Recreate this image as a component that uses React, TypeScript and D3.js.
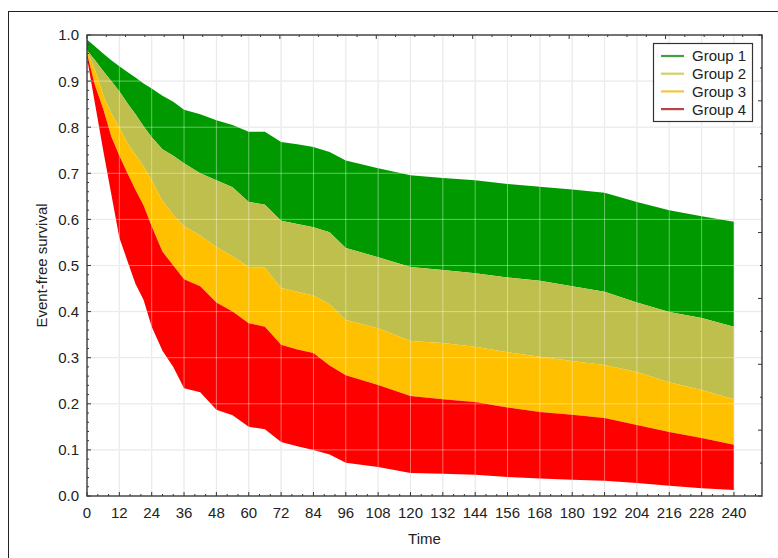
import React from "react";
import * as d3 from "d3";

// time points (months) shared by all the curves
const times = [0, 3, 6, 9, 12, 15, 18, 21, 24, 28, 32, 36, 42, 48, 54, 60, 66, 72, 78, 84, 90, 96, 108, 120, 132, 144, 156, 168, 180, 192, 204, 216, 228, 240];

// upper edge of each group's band; the band ends at the next group's upper edge
const group1Top = [0.99, 0.975, 0.96, 0.945, 0.932, 0.92, 0.908, 0.895, 0.884, 0.868, 0.855, 0.838, 0.828, 0.815, 0.805, 0.79, 0.79, 0.768, 0.763, 0.757, 0.746, 0.728, 0.711, 0.696, 0.69, 0.685, 0.677, 0.671, 0.665, 0.658, 0.638, 0.62, 0.607, 0.595];
const group2Top = [0.967, 0.945, 0.922, 0.9, 0.878, 0.852, 0.828, 0.802, 0.778, 0.752, 0.738, 0.722, 0.7, 0.685, 0.67, 0.638, 0.632, 0.597, 0.59, 0.583, 0.572, 0.538, 0.518, 0.497, 0.49, 0.483, 0.474, 0.467, 0.455, 0.443, 0.42, 0.399, 0.386, 0.367];
const group3Top = [0.965, 0.924, 0.87, 0.83, 0.8, 0.765, 0.74, 0.715, 0.685, 0.64, 0.61, 0.585, 0.565, 0.54, 0.52, 0.497, 0.495, 0.451, 0.443, 0.435, 0.416, 0.382, 0.364, 0.336, 0.332, 0.324, 0.312, 0.302, 0.293, 0.284, 0.269, 0.247, 0.23, 0.21];
const group4Top = [0.96, 0.89, 0.84, 0.78, 0.738, 0.7, 0.664, 0.63, 0.585, 0.53, 0.5, 0.47, 0.455, 0.42, 0.4, 0.375, 0.367, 0.328, 0.318, 0.31, 0.283, 0.262, 0.241, 0.217, 0.21, 0.204, 0.192, 0.182, 0.176, 0.169, 0.154, 0.139, 0.126, 0.111];
const group4Bottom = [0.95, 0.85, 0.75, 0.655, 0.56, 0.51, 0.46, 0.425, 0.367, 0.315, 0.28, 0.234, 0.225, 0.187, 0.175, 0.15, 0.145, 0.117, 0.108, 0.1, 0.09, 0.072, 0.063, 0.05, 0.048, 0.046, 0.041, 0.038, 0.035, 0.033, 0.028, 0.022, 0.017, 0.013];

const groups = ["Group 1", "Group 2", "Group 3", "Group 4"];
const fillColors = ["#009a00", "#bfbf4e", "#ffc000", "#ff0000"];
const legendColors = ["#40a040", "#d2d264", "#f5c542", "#b84545"];

const xTicks = d3.range(0, 241, 12);
const yTicks = d3.range(0, 1.01, 0.1);

const W = 778;
const H = 558;
const left = 87;
const right = 762;
const top = 35;
const bottom = 496;
const font = "'Liberation Sans', Arial, sans-serif";

export default function App() {
  const x = d3.scaleLinear().domain([0, 250.4]).range([left, right]);
  const y = d3.scaleLinear().domain([0, 1]).range([bottom, top]);
  // the frame's extra tick marks on top and right
  const xTop = d3.scaleLinear().domain([0, 35]).range([left, right]);
  const yRight = d3.scaleLinear().domain([0, 14]).range([bottom, top]);

  const edges = [group1Top, group2Top, group3Top, group4Top, group4Bottom];
  const bands = groups.map((g, i) => {
    const pts = times.map((t, j) => ({ t, hi: edges[i][j], lo: edges[i + 1][j] }));
    const area = d3
      .area<{ t: number; hi: number; lo: number }>()
      .x((d) => x(d.t))
      .y0((d) => y(d.lo))
      .y1((d) => y(d.hi));
    return area(pts) as string;
  });

  const gridV = xTicks.filter((t) => t > 0);
  const gridH = yTicks.filter((v) => v > 0.01 && v < 0.99);

  return (
    <svg width={W} height={H} style={{ position: "absolute", left: 0, top: 0 }} fontFamily={font}>
      <rect x={8.5} y={11.5} width={W} height={H} fill="#fff" stroke="#222" strokeWidth={1} />

      {/* grid under the bands */}
      {gridV.map((t) => (
        <line key={"gv" + t} x1={x(t)} x2={x(t)} y1={top} y2={bottom} stroke="#dcdcdc" />
      ))}
      {gridH.map((v) => (
        <line key={"gh" + v} x1={left} x2={right} y1={y(v)} y2={y(v)} stroke="#dcdcdc" />
      ))}

      {bands.map((d, i) => (
        <path key={groups[i]} d={d} fill={fillColors[i]} />
      ))}

      {/* grid shows faintly through the fills */}
      {gridV.map((t) => (
        <line key={"gv2" + t} x1={x(t)} x2={x(t)} y1={top} y2={bottom} stroke="#fff" strokeOpacity={0.4} />
      ))}
      {gridH.map((v) => (
        <line key={"gh2" + v} x1={left} x2={right} y1={y(v)} y2={y(v)} stroke="#fff" strokeOpacity={0.4} />
      ))}

      {/* ticks */}
      {d3.range(0, 251, 4).map((t) => (
        <line key={"xt" + t} x1={x(t)} x2={x(t)} y1={bottom} y2={bottom - (t % 12 === 0 ? 4 : 2)} stroke="#333" />
      ))}
      {d3.range(0, 51).map((k) => (
        <line key={"yt" + k} x1={left} x2={left + (k % 5 === 0 ? 4 : 2)} y1={y(k / 50)} y2={y(k / 50)} stroke="#333" />
      ))}
      {d3.range(0, 36).map((k) => (
        <line key={"tt" + k} x1={xTop(k)} x2={xTop(k)} y1={top} y2={top + (k % 5 === 0 ? 4 : 2)} stroke="#333" />
      ))}
      {d3.range(0, 15).map((k) => (
        <line key={"rt" + k} x1={right} x2={right - (k % 2 === 0 ? 4 : 2)} y1={yRight(k)} y2={yRight(k)} stroke="#333" />
      ))}

      <rect x={left} y={top} width={right - left} height={bottom - top} fill="none" stroke="#3a3a3a" strokeWidth={1.4} />

      {/* tick labels */}
      {xTicks.map((t) => (
        <text key={"xl" + t} x={x(t)} y={518} textAnchor="middle" fontSize={15} fill="#222">
          {t}
        </text>
      ))}
      {yTicks.map((v) => (
        <text key={"yl" + v} x={79} y={y(v)} dy="0.36em" textAnchor="end" fontSize={15} fill="#222">
          {v.toFixed(1)}
        </text>
      ))}

      <text x={(left + right) / 2} y={544} textAnchor="middle" fontSize={15} fill="#222">
        Time
      </text>
      <text transform={`translate(46.5,${(top + bottom) / 2}) rotate(-90)`} textAnchor="middle" fontSize={15} fill="#222">
        Event-free survival
      </text>

      {/* legend */}
      <g transform="translate(653,43)">
        <rect x={0.5} y={0.5} width={99} height={78} fill="#fff" stroke="#333" strokeWidth={1.2} />
        {groups.map((g, i) => (
          <g key={g} transform={`translate(0,${13 + i * 17.7})`}>
            <line x1={8} x2={31} y1={0} y2={0} stroke={legendColors[i]} strokeWidth={2.2} />
            <text x={39} y={0} dy="0.36em" fontSize={15} fill="#222">
              {g}
            </text>
          </g>
        ))}
      </g>
    </svg>
  );
}
